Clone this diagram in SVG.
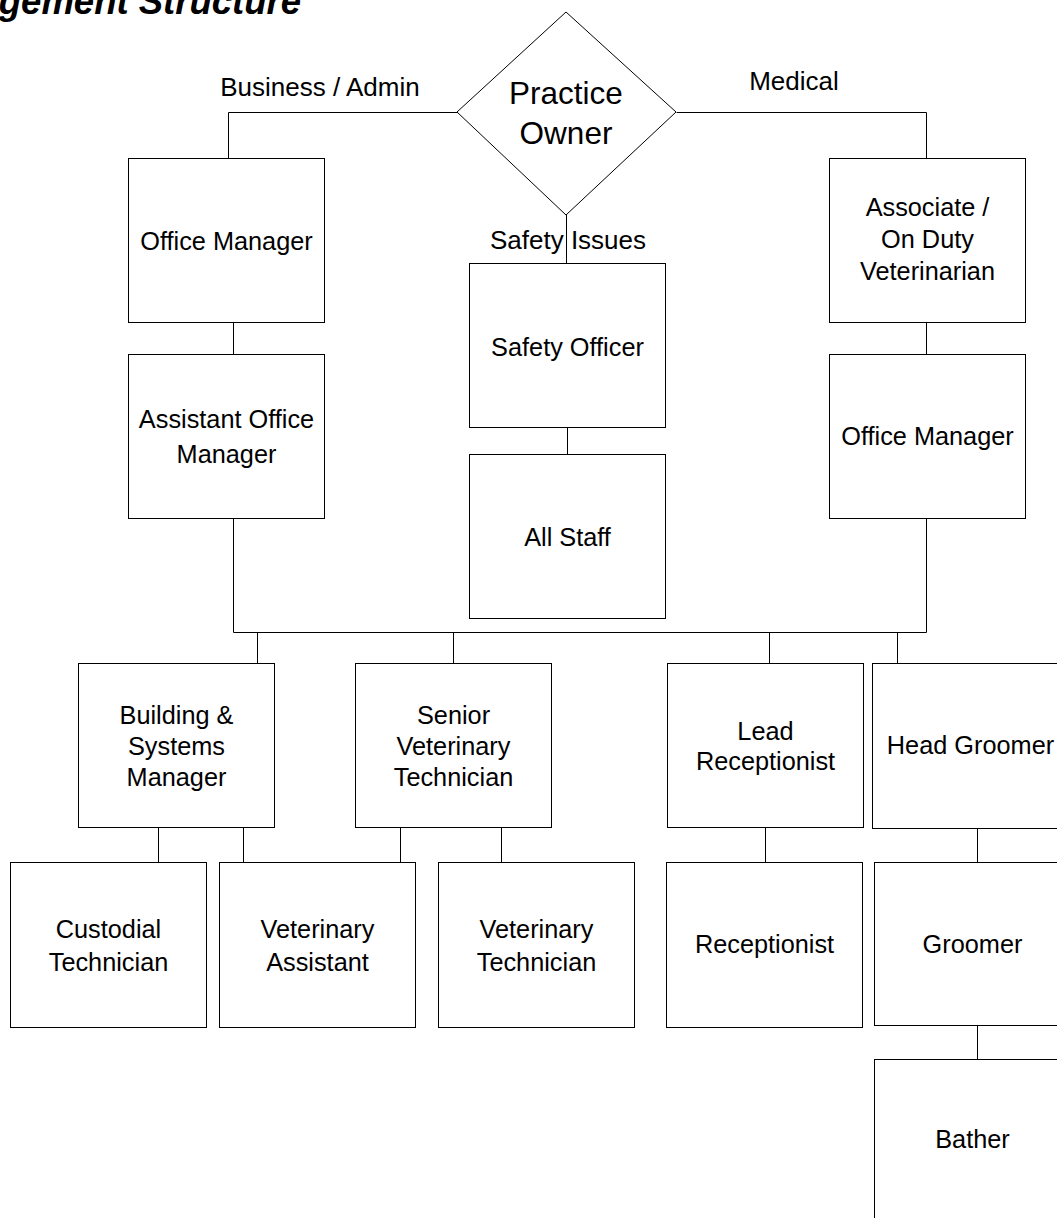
<svg xmlns="http://www.w3.org/2000/svg" width="1057" height="1218" viewBox="0 0 1057 1218">
<style>
.b{fill:#fff;stroke:#000;stroke-width:1}
.t{font-family:"Liberation Sans",Arial,sans-serif;font-size:25.3px;fill:#000;text-anchor:middle}
.l{font-family:"Liberation Sans",Arial,sans-serif;font-size:26px;fill:#000;text-anchor:middle}
.c{fill:none;stroke:#000;stroke-width:1}
.title{font-family:"Liberation Sans",Arial,sans-serif;font-size:36.5px;font-weight:bold;font-style:italic;fill:#000}
</style>
<rect width="1057" height="1218" fill="#fff"/>
<text class="title" x="301" y="14" text-anchor="end">gement Structure</text>
<g id="connectors">
<path class="c" d="M457.5,112.5H228.5V158.5"/>
<path class="c" d="M676.5,112.5H926.5V158.5"/>
<path class="c" d="M566.5,215V263.5"/>
<path class="c" d="M233.5,322.5V354.5"/>
<path class="c" d="M567.5,427.5V454.5"/>
<path class="c" d="M926.5,322.5V354.5"/>
<path class="c" d="M233.5,518.5V632.5H926.5V518.5"/>
<path class="c" d="M257.5,632.5V663.5M453.5,632.5V663.5M769.5,632.5V663.5M897.5,632.5V663.5"/>
<path class="c" d="M158.5,827.5V862.5M243.5,827.5V862.5M400.5,827.5V862.5M501.5,827.5V862.5M765.5,827.5V862.5"/>
<path class="c" d="M977.5,828.5V862.5M977.5,1025.5V1059.5"/>
</g>
<g id="labels">
<text class="l" x="320" y="96">Business / Admin</text>
<text class="l" x="794" y="90">Medical</text>
<text class="l" x="568" y="249">Safety Issues</text>
</g>
<g id="owner">
<polygon class="b" points="566,12 676,112 566,215 457,112"/>
<text class="t" style="font-size:31.5px" x="566" y="104">Practice</text>
<text class="t" style="font-size:31.5px" x="566" y="144">Owner</text>
</g>
<g id="office-manager-left"><rect class="b" x="128.5" y="158.5" width="196" height="164"/><text class="t" x="226.5" y="250">Office Manager</text></g>
<g id="assistant-office-manager"><rect class="b" x="128.5" y="354.5" width="196" height="164"/><text class="t" x="226.5" y="428">Assistant Office</text><text class="t" x="226.5" y="463">Manager</text></g>
<g id="safety-officer"><rect class="b" x="469.5" y="263.5" width="196" height="164"/><text class="t" x="567.5" y="356">Safety Officer</text></g>
<g id="all-staff"><rect class="b" x="469.5" y="454.5" width="196" height="164"/><text class="t" x="567.5" y="546">All Staff</text></g>
<g id="associate-vet"><rect class="b" x="829.5" y="158.5" width="196" height="164"/><text class="t" x="927.5" y="216">Associate /</text><text class="t" x="927.5" y="248">On Duty</text><text class="t" x="927.5" y="280">Veterinarian</text></g>
<g id="office-manager-right"><rect class="b" x="829.5" y="354.5" width="196" height="164"/><text class="t" x="927.5" y="445">Office Manager</text></g>
<g id="building-systems-manager"><rect class="b" x="78.5" y="663.5" width="196" height="164"/><text class="t" x="176.5" y="724">Building &amp;</text><text class="t" x="176.5" y="755">Systems</text><text class="t" x="176.5" y="786">Manager</text></g>
<g id="senior-vet-tech"><rect class="b" x="355.5" y="663.5" width="196" height="164"/><text class="t" x="453.5" y="724">Senior</text><text class="t" x="453.5" y="755">Veterinary</text><text class="t" x="453.5" y="786">Technician</text></g>
<g id="lead-receptionist"><rect class="b" x="667.5" y="663.5" width="196" height="164"/><text class="t" x="765.5" y="740">Lead</text><text class="t" x="765.5" y="770">Receptionist</text></g>
<g id="head-groomer"><rect class="b" x="872.5" y="663.5" width="196" height="165"/><text class="t" x="970.5" y="754">Head Groomer</text></g>
<g id="custodial-technician"><rect class="b" x="10.5" y="862.5" width="196" height="165"/><text class="t" x="108.5" y="938">Custodial</text><text class="t" x="108.5" y="971">Technician</text></g>
<g id="veterinary-assistant"><rect class="b" x="219.5" y="862.5" width="196" height="165"/><text class="t" x="317.5" y="938">Veterinary</text><text class="t" x="317.5" y="971">Assistant</text></g>
<g id="veterinary-technician"><rect class="b" x="438.5" y="862.5" width="196" height="165"/><text class="t" x="536.5" y="938">Veterinary</text><text class="t" x="536.5" y="971">Technician</text></g>
<g id="receptionist"><rect class="b" x="666.5" y="862.5" width="196" height="165"/><text class="t" x="764.5" y="953">Receptionist</text></g>
<g id="groomer"><rect class="b" x="874.5" y="862.5" width="196" height="163"/><text class="t" x="972.5" y="953">Groomer</text></g>
<g id="bather"><rect class="b" x="874.5" y="1059.5" width="196" height="200"/><text class="t" x="972.5" y="1148">Bather</text></g>
</svg>
